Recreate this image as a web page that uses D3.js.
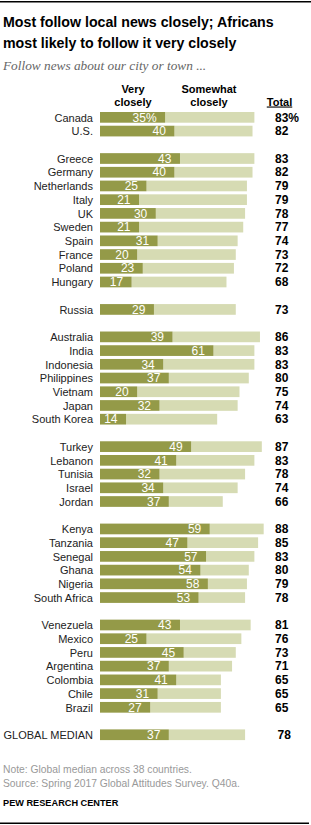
<!DOCTYPE html>
<html>
<head>
<meta charset="utf-8">
<script src="https://cdn.jsdelivr.net/npm/d3@7"></script>
<style>
  body { margin: 0; background: #fff; }
  svg { display: block; }
</style>
</head>
<body>
<div id="chart"></div>
<script>
const width = 311, height = 825;

// rows, top to bottom; groups are split by a blank row
const groupSizes = [2, 10, 1, 7, 5, 6, 7, 1];
const countries = ["Canada", "U.S.",
  "Greece", "Germany", "Netherlands", "Italy", "UK", "Sweden", "Spain", "France", "Poland", "Hungary",
  "Russia",
  "Australia", "India", "Indonesia", "Philippines", "Vietnam", "Japan", "South Korea",
  "Turkey", "Lebanon", "Tunisia", "Israel", "Jordan",
  "Kenya", "Tanzania", "Senegal", "Ghana", "Nigeria", "South Africa",
  "Venezuela", "Mexico", "Peru", "Argentina", "Colombia", "Chile", "Brazil",
  "GLOBAL MEDIAN"];
const veryClosely = [35, 40,
  43, 40, 25, 21, 30, 21, 31, 20, 23, 17,
  29,
  39, 61, 34, 37, 20, 32, 14,
  49, 41, 32, 34, 37,
  59, 47, 57, 54, 58, 53,
  43, 25, 45, 37, 41, 31, 27,
  37];
const totals = [83, 82,
  83, 82, 79, 79, 78, 77, 74, 73, 72, 68,
  73,
  86, 83, 83, 80, 75, 74, 63,
  87, 83, 78, 74, 66,
  88, 85, 83, 80, 79, 78,
  81, 76, 73, 71, 65, 65, 65,
  78];

const darkGreen = "#949a48", lightGreen = "#d6dbb3";

// build row list with spacer rows between groups
let rows = [];
let k = 0;
groupSizes.forEach((n, g) => {
  for (let i = 0; i < n; i++, k++) {
    rows.push({ key: "r" + k, name: countries[k], very: veryClosely[k], total: totals[k], idx: k });
  }
  if (g < groupSizes.length - 1) rows.push({ key: "gap" + g, blank: true });
});
const data = rows.filter(d => !d.blank);

const svg = d3.select("#chart")
  .append("svg")
  .attr("width", width)
  .attr("height", height)
  .style("font-family", "Arial, 'Liberation Sans', sans-serif");

const y = d3.scaleBand()
  .domain(rows.map(d => d.key))
  .range([112, 740.1])
  .paddingInner(0.22)
  .paddingOuter(0);

const x = d3.scaleLinear()
  .domain([0, 100])
  .range([100, 286]);

// rules
svg.append("rect").attr("x", 0).attr("y", 1).attr("width", 311).attr("height", 1.5).attr("fill", "#000");
svg.append("rect").attr("x", 0).attr("y", 822.5).attr("width", 309).attr("height", 1.5).attr("fill", "#000");

// title
const title = svg.append("text")
  .attr("x", 3)
  .style("font-size", "14.2px")
  .style("font-weight", "bold")
  .attr("fill", "#000");
title.append("tspan").attr("x", 3).attr("y", 26.5).text("Most follow local news closely; Africans");
title.append("tspan").attr("x", 3).attr("y", 47.5).text("most likely to follow it very closely");

svg.append("text")
  .attr("x", 3).attr("y", 70)
  .style("font-family", "'Liberation Serif', 'DejaVu Serif', serif")
  .style("font-style", "italic")
  .style("font-size", "13.3px")
  .attr("fill", "#666")
  .text("Follow news about our city or town ...");

// column headers
const headers = [
  { x: 133, lines: ["Very", "closely"] },
  { x: 209, lines: ["Somewhat", "closely"] }
];
headers.forEach(h => {
  h.lines.forEach((t, i) => {
    svg.append("text")
      .attr("x", h.x).attr("y", 92.5 + i * 13.3)
      .attr("text-anchor", "middle")
      .style("font-size", "11px")
      .style("font-weight", "bold")
      .attr("fill", "#000")
      .text(t);
  });
});
svg.append("text")
  .attr("x", 279.5).attr("y", 105.5)
  .attr("text-anchor", "middle")
  .style("font-size", "11px")
  .style("font-weight", "bold")
  .style("text-decoration", "underline")
  .attr("fill", "#000")
  .text("Total");

const rowG = svg.selectAll(".row")
  .data(data)
  .enter()
  .append("g")
  .attr("class", "row")
  .attr("transform", d => `translate(0,${y(d.key)})`);

// somewhat closely = total - very
rowG.append("rect")
  .attr("x", d => x(d.very))
  .attr("width", d => x(d.total) - x(d.very))
  .attr("height", y.bandwidth())
  .attr("fill", lightGreen);

rowG.append("rect")
  .attr("x", x(0))
  .attr("width", d => x(d.very) - x(0))
  .attr("height", y.bandwidth())
  .attr("fill", darkGreen);

const baseY = y.bandwidth() / 2 + 4.2;

rowG.append("text")
  .attr("x", 93)
  .attr("y", baseY)
  .attr("text-anchor", "end")
  .style("font-size", "11px")
  .attr("fill", "#222")
  .text(d => d.name);

rowG.append("text")
  .attr("x", d => x(d.very) - 8.5)
  .attr("y", baseY)
  .attr("text-anchor", "end")
  .style("font-size", "12px")
  .attr("fill", "#fff")
  .text(d => d.idx === 0 ? d.very + "%" : d.very);

rowG.append("text")
  .attr("x", d => d.name === "GLOBAL MEDIAN" ? 277.5 : 275)
  .attr("y", baseY)
  .style("font-size", "12px")
  .style("font-weight", "bold")
  .attr("fill", "#000")
  .text(d => d.idx === 0 ? d.total + "%" : d.total);

// notes
svg.append("text")
  .attr("x", 3).attr("y", 772.5)
  .style("font-size", "10.3px")
  .attr("fill", "#999")
  .text("Note: Global median across 38 countries.");
svg.append("text")
  .attr("x", 3).attr("y", 786.5)
  .style("font-size", "10.3px")
  .attr("fill", "#999")
  .text("Source: Spring 2017 Global Attitudes Survey. Q40a.");
svg.append("text")
  .attr("x", 3).attr("y", 805.5)
  .style("font-size", "9.2px")
  .style("font-weight", "bold")
  .attr("fill", "#000")
  .text("PEW RESEARCH CENTER");
</script>
</body>
</html>
